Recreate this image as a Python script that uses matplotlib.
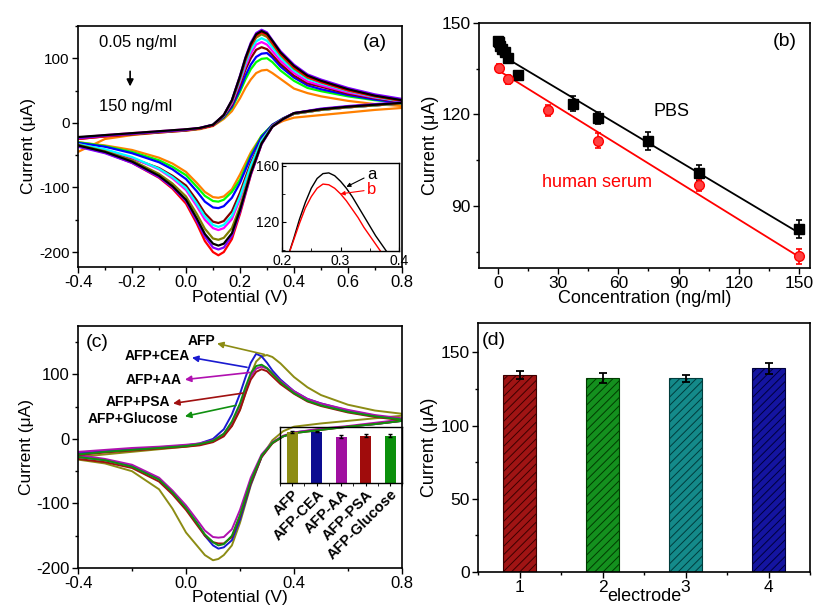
import matplotlib.pyplot as plt
import numpy as np
from matplotlib.ticker import MultipleLocator

plt.rcParams['font.family'] = ['Liberation Sans', 'DejaVu Sans']
plt.rcParams['hatch.linewidth'] = 0.7
plt.rcParams['axes.unicode_minus'] = False

# ---------------- panel (a): CV curves at different AFP concentrations ----------------
e_up = [-0.4, -0.3, -0.2, -0.1, 0.0, 0.05, 0.1, 0.14, 0.17, 0.2, 0.22, 0.24, 0.26, 0.28,
        0.30, 0.32, 0.35, 0.4, 0.45, 0.5, 0.6, 0.7, 0.8]
e_dn = [0.8, 0.7, 0.6, 0.5, 0.4, 0.36, 0.32, 0.28, 0.24, 0.2, 0.17, 0.14, 0.12, 0.10,
        0.07, 0.04, 0.0, -0.05, -0.1, -0.2, -0.3, -0.4]

up_orange = [-45, -25, -19, -15, -12, -10, -5, 6, 18, 38, 54, 67, 77, 81, 82, 77, 68, 53, 46, 41, 34, 29, 26]
dn_orange = [23, 20, 16, 12, 8, 3, -5, -20, -46, -80, -103, -114, -116, -115, -107, -93, -76, -63, -54, -42, -35, -30]
up_green = [-24, -20, -17, -14, -11, -9, -4, 8, 23, 48, 67, 83, 94, 99, 100, 94, 81, 65, 54, 49, 41, 35, 31]
dn_green = [30, 27, 24, 20, 14, 7, -3, -20, -50, -88, -107, -119, -122, -121, -113, -99, -81, -68, -58, -45, -36, -30]
up_blue = [-24, -20, -17, -14, -11, -9, -4, 9, 25, 52, 73, 90, 102, 107, 108, 101, 87, 70, 58, 52, 43, 36, 31]
dn_blue = [31, 28, 25, 21, 15, 7, -3, -22, -53, -93, -116, -129, -132, -131, -122, -106, -87, -72, -61, -47, -37, -31]
up_wine = [-25, -21, -18, -15, -12, -9, -4, 10, 28, 59, 82, 100, 113, 117, 114, 105, 91, 73, 61, 56, 45, 38, 32]
dn_wine = [30, 27, 24, 20, 14, 6, -4, -26, -62, -108, -137, -152, -155, -153, -140, -120, -97, -82, -70, -55, -44, -36]
up_magenta = [-23, -19, -16, -13, -10, -8, -3, 11, 30, 63, 87, 107, 121, 125, 121, 111, 96, 77, 64, 58, 47, 39, 33]
dn_magenta = [30, 27, 24, 20, 14, 6, -5, -28, -68, -118, -149, -163, -166, -163, -150, -129, -104, -86, -72, -54, -42, -33]
up_cyan = [-24, -20, -17, -14, -11, -9, -3, 11, 32, 66, 92, 113, 126, 131, 127, 117, 101, 81, 68, 61, 49, 40, 33]
dn_cyan = [30, 27, 24, 20, 14, 6, -5, -27, -66, -114, -144, -158, -161, -158, -145, -125, -101, -84, -71, -53, -41, -33]
up_olive = [-23, -20, -17, -14, -11, -9, -3, 12, 33, 69, 96, 118, 132, 137, 133, 122, 105, 84, 70, 63, 51, 41, 34]
dn_olive = [30, 27, 24, 20, 14, 6, -6, -31, -75, -130, -163, -178, -181, -179, -164, -141, -114, -94, -79, -58, -44, -34]
up_red = [-25, -21, -17, -14, -11, -9, -4, 12, 34, 71, 98, 120, 135, 140, 136, 124, 107, 86, 71, 63, 50, 41, 34]
dn_red = [31, 28, 25, 21, 15, 6, -6, -33, -81, -141, -180, -200, -205, -200, -183, -156, -125, -102, -85, -62, -46, -36]
up_violet = [-24, -20, -17, -14, -11, -8, -3, 12, 35, 73, 101, 124, 139, 144, 140, 128, 111, 90, 75, 67, 54, 44, 37]
dn_violet = [32, 29, 26, 22, 15, 6, -6, -33, -80, -138, -175, -193, -196, -193, -176, -152, -121, -100, -84, -62, -47, -37]
up_black = [-22, -19, -16, -13, -10, -8, -3, 12, 35, 72, 100, 122, 137, 142, 138, 127, 109, 88, 73, 65, 52, 42, 35]
dn_black = [31, 28, 25, 21, 15, 6, -6, -32, -78, -135, -171, -187, -190, -187, -172, -148, -119, -98, -82, -60, -45, -35]

a_colors = ['#ff8000', '#00ff00', '#0000ff', '#800000', '#ff00ff', '#00ffff',
            '#808000', '#ff0000', '#8000ff', '#000000']
a_up = [up_orange, up_green, up_blue, up_wine, up_magenta, up_cyan, up_olive, up_red, up_violet, up_black]
a_dn = [dn_orange, dn_green, dn_blue, dn_wine, dn_magenta, dn_cyan, dn_olive, dn_red, dn_violet, dn_black]

# inset of (a)
ins_e = [0.21, 0.22, 0.23, 0.24, 0.25, 0.26, 0.27, 0.28, 0.29, 0.30, 0.31, 0.32, 0.33,
         0.34, 0.35, 0.36, 0.37, 0.38, 0.39]
ins_a = [95, 108, 122, 134, 144, 151, 154.5, 155, 153, 149, 144, 138, 131, 124, 117, 110, 104, 98, 93]
ins_b = [95, 107, 119, 130, 138, 144, 147, 146.5, 144, 140, 135, 129, 123, 116, 110, 104, 98, 92, 88]

# ---------------- panel (b): calibration ----------------
pbs_c = [0.05, 0.5, 1, 2, 3.3, 5, 10, 37.5, 50, 75, 100, 150]
pbs_i = [144.2, 143.6, 142.5, 141.4, 140.5, 138.4, 132.9, 123.5, 118.7, 111.2, 100.8, 82.3]
pbs_err = [1.2, 1.0, 1.0, 1.0, 1.0, 1.2, 1.5, 2.5, 2.0, 3.0, 2.5, 3.0]
ser_c = [0.5, 5, 25, 50, 100, 150]
ser_i = [135.2, 131.5, 121.3, 111.4, 96.9, 73.5]
ser_err = [1.2, 1.5, 1.8, 2.5, 2.0, 2.5]
pbs_fit = (140.1, -0.393)   # intercept, slope
ser_fit = (134.5, -0.408)

# ---------------- panel (c): selectivity ----------------
up_c_olive = [-28, -24, -20, -16, -12, -9, -4, 6, 20, 45, 70, 100, 120, 128, 130, 127, 117, 96, 80, 68, 53, 44, 39]
dn_c_olive = [36, 32, 28, 24, 19, 12, -2, -28, -72, -130, -165, -180, -186, -188, -180, -165, -145, -108, -78, -50, -38, -32]
up_c_blue = [-22, -19, -16, -13, -10, -7, 0, 15, 38, 70, 95, 118, 132, 128, 118, 106, 92, 74, 62, 55, 44, 36, 30]
dn_c_blue = [28, 23, 19, 15, 10, 4, -6, -28, -70, -125, -157, -168, -170, -165, -150, -130, -108, -83, -62, -42, -33, -28]
up_c_magenta = [-20, -17, -14, -12, -9, -7, -2, 8, 25, 52, 76, 97, 109, 112, 109, 102, 90, 74, 62, 55, 45, 37, 32]
dn_c_magenta = [30, 25, 20, 16, 10, 5, -5, -24, -60, -110, -140, -152, -153, -152, -142, -125, -103, -80, -60, -40, -31, -25]
up_c_red = [-25, -21, -18, -15, -12, -10, -5, 4, 20, 45, 70, 92, 104, 108, 105, 97, 85, 70, 58, 51, 41, 34, 29]
dn_c_red = [28, 23, 19, 14, 9, 4, -7, -28, -68, -120, -152, -162, -162, -160, -150, -133, -110, -86, -66, -45, -36, -31]
up_c_green = [-24, -20, -17, -14, -11, -8, -3, 8, 27, 55, 80, 102, 113, 115, 110, 101, 88, 71, 59, 52, 42, 35, 30]
dn_c_green = [28, 23, 19, 14, 9, 4, -6, -26, -65, -118, -150, -163, -165, -160, -148, -130, -107, -83, -63, -43, -33, -28]

c_labels = ['AFP', 'AFP+CEA', 'AFP+AA', 'AFP+PSA', 'AFP+Glucose']
c_colors = ['#8c8c14', '#1a1ad0', '#b010b0', '#a01010', '#109010']
c_up = [up_c_olive, up_c_blue, up_c_magenta, up_c_red, up_c_green]
c_dn = [dn_c_olive, dn_c_blue, dn_c_magenta, dn_c_red, dn_c_green]

bar_names = ['AFP', 'AFP-CEA', 'AFP-AA', 'AFP-PSA', 'AFP-Glucose']
bar_vals = [100, 101, 91, 93, 93]
bar_errs = [1.5, 1.5, 3, 3.5, 2.5]
bar_colors = ['#8c8c14', '#0c0c90', '#a010a0', '#a00c0c', '#0c900c']

# ---------------- panel (d): reproducibility ----------------
electrodes = [1, 2, 3, 4]
d_current = [134.5, 132.3, 132.3, 139.0]
d_err = [3.0, 3.5, 2.5, 4.0]
d_colors = ['#a01414', '#14901e', '#148a8a', '#1414a0']
d_hatch = ['#3c0000', '#003c00', '#003c3c', '#00003c']

fig = plt.figure(figsize=(8.16, 6.08), dpi=100)


def style(ax, xsize, ysize):
    for s in ax.spines.values():
        s.set_linewidth(1.2)
    ax.tick_params(which='both', direction='out', width=1.0)
    ax.tick_params(which='major', length=4)
    ax.tick_params(which='minor', length=2.5)
    ax.tick_params(axis='x', labelsize=xsize, pad=2)
    ax.tick_params(axis='y', labelsize=ysize, pad=2)


# (a)
ax1 = fig.add_axes([0.0956, 0.561, 0.397, 0.3964])
for col, u, d in zip(a_colors, a_up, a_dn):
    ax1.plot(e_up + e_dn, u + d, color=col, lw=1.6)
ax1.set_xlim(-0.4, 0.8)
ax1.set_ylim(-223, 150)
ax1.xaxis.set_major_locator(MultipleLocator(0.2))
ax1.xaxis.set_minor_locator(MultipleLocator(0.1))
ax1.yaxis.set_major_locator(MultipleLocator(100))
ax1.yaxis.set_minor_locator(MultipleLocator(50))
style(ax1, 12, 11)
ax1.set_xlabel('Potential (V)', fontsize=12.5, labelpad=0)
ax1.set_ylabel('Current (μA)', fontsize=12.5, labelpad=2)
ax1.text(-0.18, 124, '0.05 ng/ml', fontsize=12, ha='center', va='center')
ax1.text(-0.185, 26, '150 ng/ml', fontsize=12, ha='center', va='center')
ax1.annotate('', xy=(-0.207, 52), xytext=(-0.207, 84),
             arrowprops=dict(arrowstyle='-|>', color='black', lw=1.2, mutation_scale=10))
ax1.text(0.70, 124, '(a)', fontsize=14, ha='center', va='center')

ins1 = fig.add_axes([0.3456, 0.587, 0.1434, 0.1447])
ins1.plot(ins_e, ins_a, color='black', lw=1.0)
ins1.plot(ins_e, ins_b, color='red', lw=1.0)
ins1.set_xlim(0.2, 0.4)
ins1.set_ylim(99, 162)
ins1.set_xticks([0.2, 0.3, 0.4])
ins1.set_xticklabels(['0.2', '0.3', '0.4'])
ins1.xaxis.set_minor_locator(MultipleLocator(0.05))
ins1.set_yticks([120, 160])
ins1.yaxis.set_minor_locator(MultipleLocator(20))
ins1.tick_params(which='both', direction='in', labelsize=10, pad=2, length=3)
ins1.tick_params(which='minor', length=2)
for s in ins1.spines.values():
    s.set_linewidth(1.0)
ins1.annotate('a', xy=(0.31, 145), xytext=(0.345, 154), fontsize=12, ha='left', va='center',
              arrowprops=dict(arrowstyle='-|>', color='black', lw=0.8, mutation_scale=6,
                              shrinkA=0, shrinkB=0))
ins1.annotate('b', xy=(0.30, 140), xytext=(0.345, 143), fontsize=12, ha='left', va='center',
              color='red',
              arrowprops=dict(arrowstyle='-|>', color='red', lw=0.8, mutation_scale=6,
                              shrinkA=0, shrinkB=0))

# (b)
ax2 = fig.add_axes([0.587, 0.5592, 0.4056, 0.403])
xf = np.array([0, 150])
ax2.plot(xf, pbs_fit[0] + pbs_fit[1] * xf, color='black', lw=1.3)
ax2.plot(xf, ser_fit[0] + ser_fit[1] * xf, color='red', lw=1.3)
ax2.errorbar(pbs_c, pbs_i, yerr=pbs_err, fmt='s', color='black', ms=7, capsize=2.5,
             elinewidth=1.2, capthick=1.2)
ax2.errorbar(ser_c, ser_i, yerr=ser_err, fmt='o', color='red', mfc='#ff4040', mec='red',
             ms=7, capsize=2.5, elinewidth=1.2, capthick=1.2)
ax2.set_xlim(-9.5, 155.5)
ax2.set_ylim(69.6, 150)
ax2.xaxis.set_major_locator(MultipleLocator(30))
ax2.xaxis.set_minor_locator(MultipleLocator(15))
ax2.yaxis.set_major_locator(MultipleLocator(30))
ax2.yaxis.set_minor_locator(MultipleLocator(15))
style(ax2, 12.5, 12.5)
ax2.set_xlabel('Concentration (ng/ml)', fontsize=13, labelpad=-1)
ax2.set_ylabel('Current (μA)', fontsize=13, labelpad=2)
ax2.text(86.7, 121, 'PBS', fontsize=13, ha='center', va='center')
ax2.text(49.3, 97.5, 'human serum', fontsize=13, ha='center', va='center', color='red')
ax2.text(143, 144, '(b)', fontsize=14, ha='center', va='center')

# (c)
ax3 = fig.add_axes([0.0956, 0.0658, 0.397, 0.398])
for col, u, d in zip(c_colors, c_up, c_dn):
    ax3.plot(e_up + e_dn, u + d, color=col, lw=1.4)
ax3.set_xlim(-0.4, 0.8)
ax3.set_ylim(-200, 175)
ax3.xaxis.set_major_locator(MultipleLocator(0.4))
ax3.xaxis.set_minor_locator(MultipleLocator(0.2))
ax3.yaxis.set_major_locator(MultipleLocator(100))
ax3.yaxis.set_minor_locator(MultipleLocator(50))
style(ax3, 12, 12)
ax3.set_xlabel('Potential (V)', fontsize=12.5, labelpad=-1)
ax3.set_ylabel('Current (μA)', fontsize=12.5, labelpad=2)
ax3.text(-0.37, 150, '(c)', fontsize=14, ha='left', va='center')
c_text = [(0.059, 152), (-0.107, 129), (-0.118, 91), (-0.178, 57), (-0.196, 31)]
c_head = [(0.115, 148), (0.022, 126), (-0.004, 92), (-0.048, 55), (-0.004, 35)]
c_tail = [(0.29, 131), (0.226, 111), (0.237, 103), (0.211, 71), (0.185, 52)]
for lab, col, t, h, tl in zip(c_labels, c_colors, c_text, c_head, c_tail):
    ax3.text(t[0], t[1], lab, fontsize=10, fontweight='bold', ha='center', va='center')
    ax3.annotate('', xy=h, xytext=tl,
                 arrowprops=dict(arrowstyle='-|>', color=col, lw=1.2, mutation_scale=9,
                                 shrinkA=0, shrinkB=0))

ins3 = fig.add_axes([0.343, 0.2056, 0.150, 0.092])
ins3.patch.set_alpha(0)
ins3.bar(range(1, 6), bar_vals, width=0.45, color=bar_colors, yerr=bar_errs,
         error_kw=dict(ecolor='black', elinewidth=1.0, capsize=1.5))
ins3.set_xlim(0.5, 5.5)
ins3.set_ylim(0, 110)
ins3.set_yticks([])
ins3.set_xticks(range(1, 6))
ins3.set_xticklabels(bar_names, rotation=45, ha='right', rotation_mode='anchor',
                     fontsize=10.5, fontweight='bold')
ins3.xaxis.set_minor_locator(MultipleLocator(0.5))
ins3.tick_params(which='both', direction='out', length=2, pad=1)
for s in ins3.spines.values():
    s.set_linewidth(1.0)

# (d)
ax4 = fig.add_axes([0.5858, 0.0592, 0.4069, 0.4095])
for x, v, c, hc in zip(electrodes, d_current, d_colors, d_hatch):
    ax4.bar(x, v, width=0.4, color=c, edgecolor=hc, hatch='////', lw=0.8)
ax4.errorbar(electrodes, d_current, yerr=d_err, fmt='none', ecolor='black',
             elinewidth=1.3, capsize=3, capthick=1.3)
ax4.set_xlim(0.5, 4.5)
ax4.set_ylim(0, 170)
ax4.set_xticks(electrodes)
ax4.xaxis.set_minor_locator(MultipleLocator(0.5))
ax4.yaxis.set_major_locator(MultipleLocator(50))
ax4.yaxis.set_minor_locator(MultipleLocator(25))
style(ax4, 12.5, 12.5)
ax4.set_xlabel('electrode', fontsize=13, labelpad=-5)
ax4.set_ylabel('Current (μA)', fontsize=13, labelpad=2)
ax4.text(0.55, 158, '(d)', fontsize=14, ha='left', va='center')

fig.savefig('out.png', dpi=100)
